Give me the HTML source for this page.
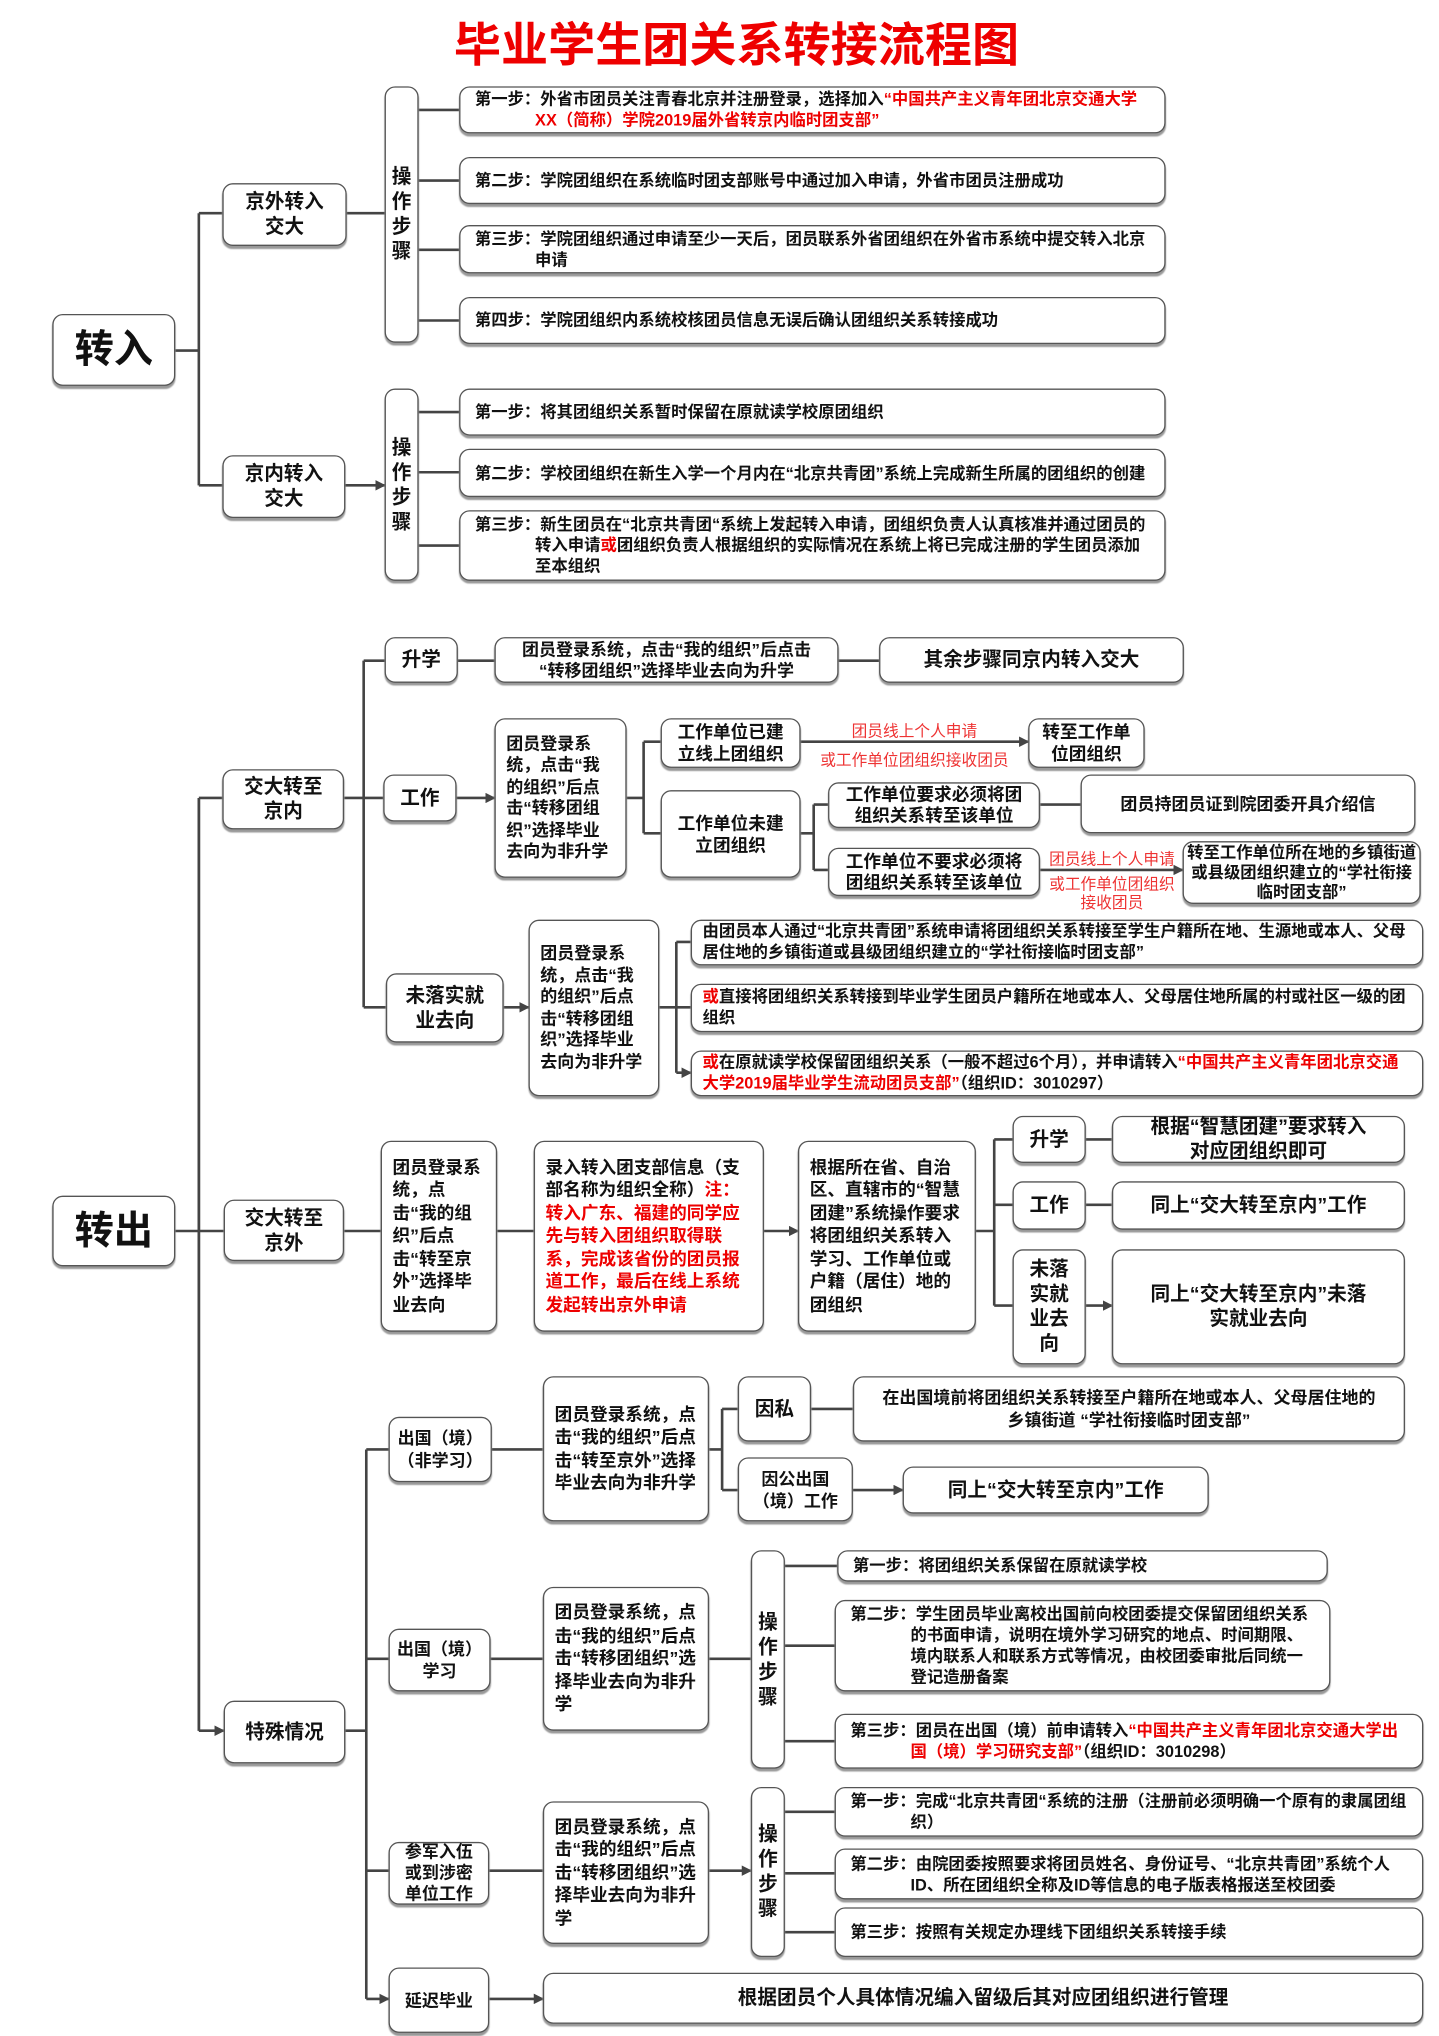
<!DOCTYPE html>
<html><head><meta charset="utf-8">
<style>
html,body{margin:0;padding:0;background:#fff;}
body{width:1439px;height:2035px;overflow:hidden;position:relative;}
#c{position:absolute;left:0;top:0;width:1100px;height:1556px;transform:scale(1.30818);transform-origin:0 0;
font-family:"Liberation Sans","Noto Sans CJK SC",sans-serif;font-weight:bold;color:#111;}
.b{position:absolute;box-sizing:border-box;border:1.6px solid #555;border-radius:8px;background:#fff;
box-shadow:0 2px 1px #999;display:flex;align-items:center;justify-content:center;text-align:center;font-size:15px;line-height:19px;}
.s{justify-content:flex-start;text-align:left;font-size:12.5px;line-height:16px;padding:0 8px 0 57px;text-indent:-46px;}
.l{justify-content:flex-start;text-align:left;font-size:13px;line-height:16.5px;padding:0 8px;}
.v{font-size:15px;line-height:19px;padding:0 3px;}
.r{color:#e00;}
.rl{position:absolute;color:#e33;font-size:12px;font-weight:normal;white-space:nowrap;text-align:center;}
svg{position:absolute;left:0;top:0;}
</style></head><body><div id="c">
<div style="position:absolute;left:0;width:1126px;top:12px;text-align:center;color:#e00;font-size:36px;line-height:46px;letter-spacing:0px;">毕业学生团关系转接流程图</div>

<svg width="1100" height="1556" viewBox="0 0 1100 1556">
<defs><marker id="a" markerWidth="8" markerHeight="8" refX="7" refY="4" orient="auto" markerUnits="userSpaceOnUse"><path d="M0,0 L8,4 L0,8 z" fill="#444"/></marker></defs>
<g stroke="#444" stroke-width="2" fill="none">
<path d="M134 268H152M152 163V371"/>
<path d="M152 163H170M152 371H170M265 163H294M264 371H294" marker-end="url(#a)"/>
<path d="M320 84H351M320 138H351M320 191H351M320 245H351M320 315H351M320 361H351M320 417H351"/>
<path d="M134 941H171M152 610V1323M152 610H170M152 1323H171" marker-end="url(#a)"/>
<path d="M152 610V1323"/>
<path d="M263 610H278M278 505V770"/>
<path d="M278 505H294M278 610H293M278 770H295M350 505H378M641 505H672M349 610H378" marker-end="url(#a)"/>
<path d="M479 610H492M492 567V637"/>
<path d="M492 567H505M492 637H505M612 567H786" marker-end="url(#a)"/>
<path d="M612 637H622M622 615V665"/>
<path d="M622 615H633M622 665H633M795 615H826M795 665H904" marker-end="url(#a)"/>
<path d="M385 770H404" marker-end="url(#a)"/>
<path d="M504 770H517M517 720V820"/>
<path d="M517 720H528M517 770H528M517 820H528" marker-end="url(#a)"/>
<path d="M263 941H291M380 941H408M584 941H610" marker-end="url(#a)"/>
<path d="M746 941H760M760 871V998"/>
<path d="M760 871H774M760 921H774M760 998H774M830 871H850M830 921H850M830 998H850" marker-end="url(#a)"/>
<path d="M264 1323H280M280 1108V1528"/>
<path d="M280 1108H297M280 1268H297M280 1430H297M280 1528H297" marker-end="url(#a)"/>
<path d="M376 1108H415M375 1268H415M374 1430H415M374 1528H415" marker-end="url(#a)"/>
<path d="M542 1108H552M552 1077V1139"/>
<path d="M552 1077H564M552 1139H564M620 1077H652M652 1139H690" marker-end="url(#a)"/>
<path d="M542 1268H574M542 1430H574" marker-end="url(#a)"/>
<path d="M600 1197H640M600 1258H638M600 1331H638M600 1385H638M600 1432H638M600 1477H638"/>
</g></svg>

<!-- 转入 -->
<div class="b" style="left:40px;top:240px;width:94px;height:55px;font-size:30px;">转入</div>
<div class="b" style="left:170px;top:140px;width:95px;height:48px;">京外转入<br>交大</div>
<div class="b" style="left:170px;top:348px;width:94px;height:48px;">京内转入<br>交大</div>
<div class="b v" style="left:294px;top:66px;width:26px;height:196px;">操<br>作<br>步<br>骤</div>
<div class="b v" style="left:294px;top:297px;width:26px;height:147px;">操<br>作<br>步<br>骤</div>
<div class="b s" style="left:351px;top:66px;width:540px;height:36px;"><div>第一步：外省市团员关注青春北京并注册登录，选择加入<span class="r">“中国共产主义青年团北京交通大学XX（简称）学院2019届外省转京内临时团支部”</span></div></div>
<div class="b s" style="left:351px;top:120px;width:540px;height:36px;"><div>第二步：学院团组织在系统临时团支部账号中通过加入申请，外省市团员注册成功</div></div>
<div class="b s" style="left:351px;top:172px;width:540px;height:37px;"><div>第三步：学院团组织通过申请至少一天后，团员联系外省团组织在外省市系统中提交转入北京申请</div></div>
<div class="b s" style="left:351px;top:227px;width:540px;height:36px;"><div>第四步：学院团组织内系统校核团员信息无误后确认团组织关系转接成功</div></div>
<div class="b s" style="left:351px;top:297px;width:540px;height:36px;"><div>第一步：将其团组织关系暂时保留在原就读学校原团组织</div></div>
<div class="b s" style="left:351px;top:343px;width:540px;height:37px;"><div>第二步：学校团组织在新生入学一个月内在“北京共青团”系统上完成新生所属的团组织的创建</div></div>
<div class="b s" style="left:351px;top:390px;width:540px;height:54px;"><div>第三步：新生团员在“北京共青团“系统上发起转入申请，团组织负责人认真核准并通过团员的转入申请<span class="r">或</span>团组织负责人根据组织的实际情况在系统上将已完成注册的学生团员添加至本组织</div></div>

<!-- 转出 -->
<div class="b" style="left:40px;top:914px;width:94px;height:54px;font-size:30px;">转出</div>
<div class="b" style="left:170px;top:588px;width:93px;height:46px;">交大转至<br>京内</div>
<div class="b" style="left:294px;top:487px;width:56px;height:35px;">升学</div>
<div class="b" style="left:378px;top:487px;width:263px;height:35px;font-size:13px;line-height:16px;">团员登录系统，点击“我的组织”后点击<br>“转移团组织”选择毕业去向为升学</div>
<div class="b" style="left:672px;top:487px;width:233px;height:35px;">其余步骤同京内转入交大</div>
<div class="b" style="left:293px;top:592px;width:56px;height:36px;">工作</div>
<div class="b l" style="left:378px;top:549px;width:101px;height:122px;">团员登录系统，点击“我的组织”后点击“转移团组织”选择毕业去向为非升学</div>
<div class="b" style="left:505px;top:549px;width:107px;height:38px;font-size:13.5px;line-height:17px;">工作单位已建<br>立线上团组织</div>
<div class="b" style="left:505px;top:604px;width:107px;height:67px;font-size:13.5px;line-height:17px;">工作单位未建<br>立团组织</div>
<div class="rl" style="left:612px;width:174px;top:550px;">团员线上个人申请</div>
<div class="rl" style="left:612px;width:174px;top:572px;">或工作单位团组织接收团员</div>
<div class="b" style="left:786px;top:549px;width:89px;height:38px;font-size:13.5px;line-height:17px;">转至工作单<br>位团组织</div>
<div class="b" style="left:633px;top:598px;width:162px;height:35px;font-size:13.5px;line-height:16px;">工作单位要求必须将团<br>组织关系转至该单位</div>
<div class="b" style="left:826px;top:592px;width:256px;height:45px;font-size:13px;">团员持团员证到院团委开具介绍信</div>
<div class="b" style="left:633px;top:648px;width:162px;height:37px;font-size:13.5px;line-height:16px;">工作单位不要求必须将<br>团组织关系转至该单位</div>
<div class="rl" style="left:795px;width:110px;top:648px;">团员线上个人申请</div>
<div class="rl" style="left:795px;width:110px;top:669px;line-height:14px;">或工作单位团组织<br>接收团员</div>
<div class="b" style="left:904px;top:643px;width:182px;height:48px;font-size:12.5px;line-height:15px;">转至工作单位所在地的乡镇街道或县级团组织建立的“学社衔接临时团支部”</div>
<div class="b" style="left:295px;top:744px;width:90px;height:53px;">未落实就<br>业去向</div>
<div class="b l" style="left:404px;top:703px;width:100px;height:135px;">团员登录系统，点击“我的组织”后点击“转移团组织”选择毕业去向为非升学</div>
<div class="b l" style="left:528px;top:703px;width:560px;height:35px;font-size:12.5px;line-height:15.5px;"><div>由团员本人通过“北京共青团”系统申请将团组织关系转接至学生户籍所在地、生源地或本人、父母居住地的乡镇街道或县级团组织建立的“学社衔接临时团支部”</div></div>
<div class="b l" style="left:528px;top:752px;width:560px;height:37px;font-size:12.5px;line-height:15.5px;"><div><span class="r">或</span>直接将团组织关系转接到毕业学生团员户籍所在地或本人、父母居住地所属的村或社区一级的团组织</div></div>
<div class="b l" style="left:528px;top:803px;width:560px;height:35px;font-size:12.5px;line-height:15.5px;"><div><span class="r">或</span>在原就读学校保留团组织关系（一般不超过6个月），并申请转入<span class="r">“中国共产主义青年团北京交通大学2019届毕业学生流动团员支部”</span>（组织ID：3010297）</div></div>

<div class="b" style="left:171px;top:917px;width:92px;height:47px;">交大转至<br>京外</div>
<div class="b l" style="left:291px;top:872px;width:89px;height:146px;font-size:13.5px;line-height:17.5px;">团员登录系统，点击“我的组织”后点击“转至京外”选择毕业去向</div>
<div class="b l" style="left:408px;top:872px;width:176px;height:146px;font-size:13.5px;line-height:17.5px;"><div>录入转入团支部信息（支部名称为组织全称）<span class="r">注：转入广东、福建的同学应先与转入团组织取得联系，完成该省份的团员报道工作，最后在线上系统发起转出京外申请</span></div></div>
<div class="b l" style="left:610px;top:872px;width:136px;height:146px;font-size:13.5px;line-height:17.5px;">根据所在省、自治区、直辖市的“智慧团建”系统操作要求将团组织关系转入学习、工作单位或户籍（居住）地的团组织</div>
<div class="b" style="left:774px;top:853px;width:56px;height:36px;">升学</div>
<div class="b" style="left:774px;top:903px;width:56px;height:37px;">工作</div>
<div class="b" style="left:774px;top:955px;width:56px;height:88px;line-height:19px;">未落<br>实就<br>业去<br>向</div>
<div class="b" style="left:850px;top:853px;width:224px;height:36px;">根据“智慧团建”要求转入<br>对应团组织即可</div>
<div class="b" style="left:850px;top:903px;width:224px;height:37px;">同上“交大转至京内”工作</div>
<div class="b" style="left:850px;top:955px;width:224px;height:88px;">同上“交大转至京内”未落<br>实就业去向</div>

<div class="b" style="left:171px;top:1300px;width:93px;height:48px;">特殊情况</div>
<div class="b" style="left:297px;top:1083px;width:79px;height:50px;font-size:13px;line-height:17px;">出国（境）<br>（非学习）</div>
<div class="b l" style="left:415px;top:1052px;width:127px;height:111px;font-size:13.5px;line-height:17.5px;">团员登录系统，点击“我的组织”后点击“转至京外”选择毕业去向为非升学</div>
<div class="b" style="left:564px;top:1052px;width:56px;height:50px;">因私</div>
<div class="b" style="left:652px;top:1052px;width:422px;height:50px;font-size:13px;line-height:17px;">在出国境前将团组织关系转接至户籍所在地或本人、父母居住地的<br>乡镇街道 “学社衔接临时团支部”</div>
<div class="b" style="left:564px;top:1114px;width:88px;height:49px;font-size:13px;line-height:17px;">因公出国<br>（境）工作</div>
<div class="b" style="left:690px;top:1121px;width:234px;height:36px;">同上“交大转至京内”工作</div>

<div class="b" style="left:297px;top:1245px;width:78px;height:48px;font-size:13px;line-height:17px;">出国（境）<br>学习</div>
<div class="b l" style="left:415px;top:1213px;width:127px;height:110px;font-size:13.5px;line-height:17.5px;">团员登录系统，点击“我的组织”后点击“转移团组织”选择毕业去向为非升学</div>
<div class="b v" style="left:574px;top:1185px;width:26px;height:167px;">操<br>作<br>步<br>骤</div>
<div class="b s" style="left:640px;top:1185px;width:375px;height:24px;"><div>第一步：将团组织关系保留在原就读学校</div></div>
<div class="b s" style="left:638px;top:1223px;width:379px;height:70px;"><div>第二步：学生团员毕业离校出国前向校团委提交保留团组织关系的书面申请，说明在境外学习研究的地点、时间期限、境内联系人和联系方式等情况，由校团委审批后同统一登记造册备案</div></div>
<div class="b s" style="left:638px;top:1310px;width:450px;height:42px;"><div>第三步：团员在出国（境）前申请转入<span class="r">“中国共产主义青年团北京交通大学出国（境）学习研究支部”</span>（组织ID：3010298）</div></div>

<div class="b" style="left:297px;top:1408px;width:77px;height:48px;font-size:13px;line-height:16px;">参军入伍<br>或到涉密<br>单位工作</div>
<div class="b l" style="left:415px;top:1377px;width:127px;height:109px;font-size:13.5px;line-height:17.5px;">团员登录系统，点击“我的组织”后点击“转移团组织”选择毕业去向为非升学</div>
<div class="b v" style="left:574px;top:1366px;width:26px;height:130px;">操<br>作<br>步<br>骤</div>
<div class="b s" style="left:638px;top:1366px;width:450px;height:38px;"><div>第一步：完成“北京共青团“系统的注册（注册前必须明确一个原有的隶属团组织）</div></div>
<div class="b s" style="left:638px;top:1413px;width:450px;height:39px;"><div>第二步：由院团委按照要求将团员姓名、身份证号、“北京共青团”系统个人ID、所在团组织全称及ID等信息的电子版表格报送至校团委</div></div>
<div class="b s" style="left:638px;top:1458px;width:450px;height:38px;"><div>第三步：按照有关规定办理线下团组织关系转接手续</div></div>

<div class="b" style="left:297px;top:1504px;width:77px;height:50px;font-size:13px;">延迟毕业</div>
<div class="b" style="left:415px;top:1508px;width:673px;height:39px;">根据团员个人具体情况编入留级后其对应团组织进行管理</div>
</div></body></html>
